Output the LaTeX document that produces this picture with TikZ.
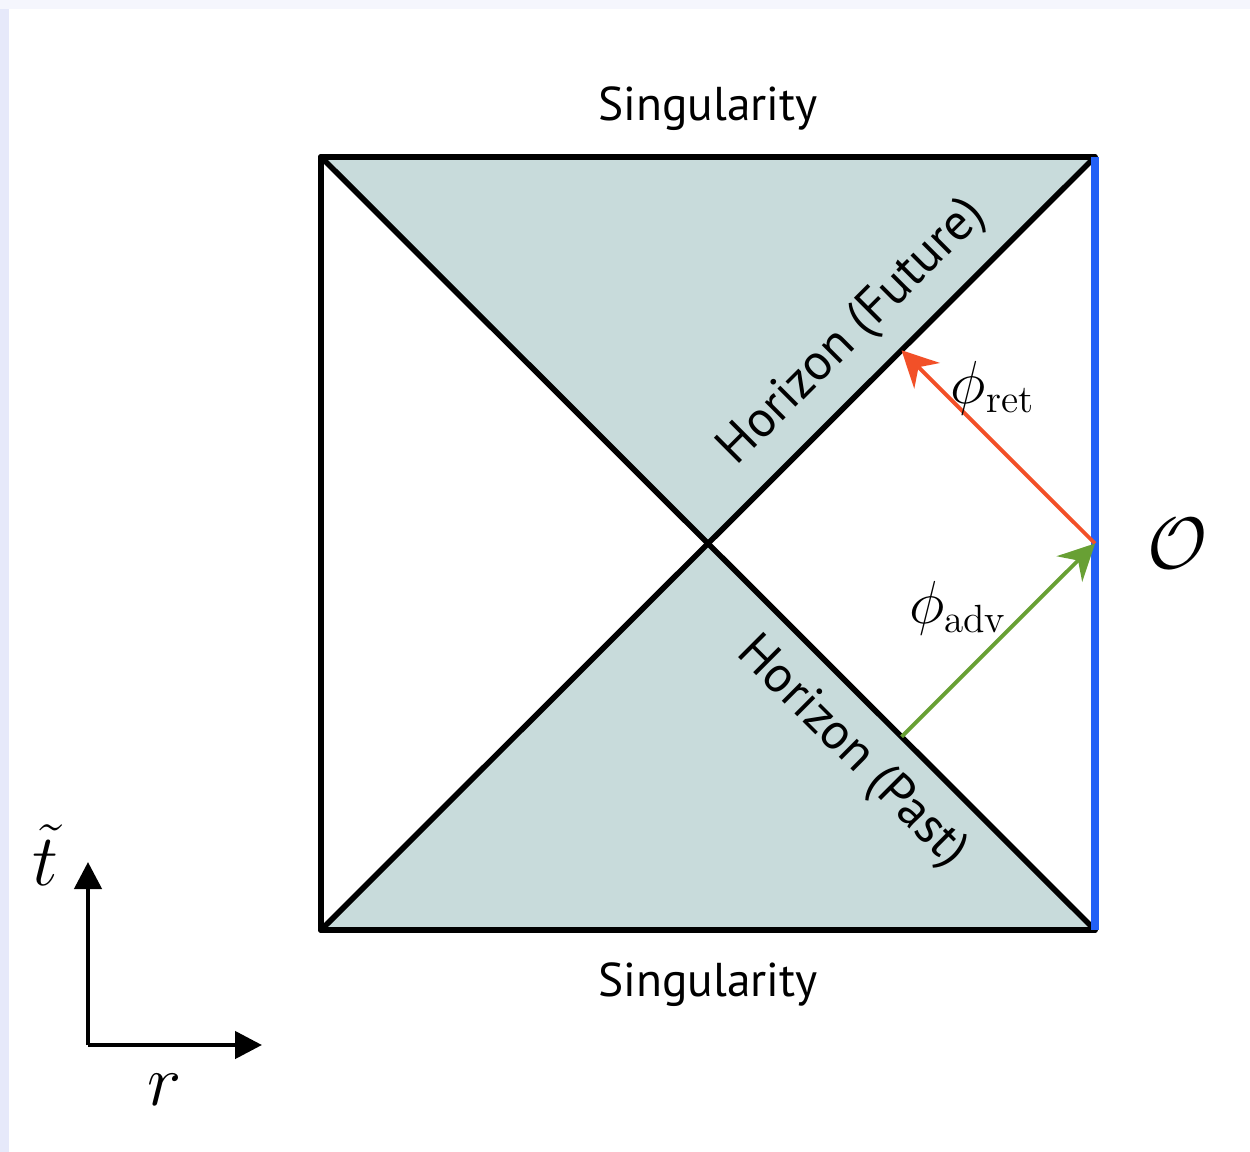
\documentclass[tikz,border=0pt]{standalone}
\usepackage{fontspec}
\setsansfont{PT Sans}
\usetikzlibrary{arrows.meta, positioning, calc}
\definecolor{wedgefill}{RGB}{200,219,219}
\definecolor{obsblue}{RGB}{34,96,246}
\definecolor{retred}{RGB}{242,80,40}
\definecolor{advgreen}{RGB}{104,160,52}
\definecolor{frametop}{RGB}{245,246,253}
\definecolor{frameleft}{RGB}{230,233,250}

\begin{document}
\begin{tikzpicture}[
    >=Stealth,
    edge/.style={line width=1.6pt, line cap=round, line join=round},
    wedge/.style={fill=wedgefill},
    sing/.style={font=\sffamily\fontsize{13.5}{16}\selectfont},
    hlbl/.style={font=\sffamily\fontsize{14.5}{16}\selectfont, sloped, inner sep=0pt},
    ray/.style={line width=1.1pt, -{Stealth[length=3.6mm, width=3.6mm, inset=1.2mm]}},
    axis/.style={line width=1.3pt, -{Triangle[length=2.7mm, width=2.7mm]}},
    philbl/.style={font=\fontsize{16}{18}\selectfont},
]
% === Frame and bounding box ===
\fill[frametop] (0,0) rectangle (12.5,-11.52);
\fill[frameleft] (0,-0.09) rectangle (0.09,-11.52);
\fill[white] (0.09,-0.09) rectangle (12.5,-11.52);
\useasboundingbox (0,0) rectangle (12.5,-11.52);
% === Corners of the Penrose square ===
\coordinate (tl) at (3.21,-1.57);
\coordinate (tr) at (10.95,-1.57);
\coordinate (bl) at (3.21,-9.30);
\coordinate (br) at (10.95,-9.30);
\coordinate (ctr) at ($(tl)!0.5!(br)$);
\coordinate (obs) at ($(tr)!0.5!(br)$);
% === Shaded wedges (black hole above, white hole below) ===
\fill[wedge] (tl) -- (tr) -- (ctr) -- cycle;
\fill[wedge] (bl) -- (br) -- (ctr) -- cycle;
% === Edges and horizons ===
\draw[edge] (tl) -- (tr);
\draw[edge] (bl) -- (br);
\draw[edge] (tl) -- (bl);
\draw[edge] (bl) -- (tr) node[hlbl, pos=0.73, above=0.2cm] {Horizon (Future)};
\draw[edge] (tl) -- (br) node[hlbl, pos=0.728, below=0.2cm] {Horizon (Past)};
\draw[line width=2.2pt, obsblue] (tr) -- (br);
\node[sing, above=0.14 of ctr |- tl] (singtop) {Singularity};
\node[sing, below=0.2 of ctr |- bl] (singbot) {Singularity};
% === Observer and the two fields ===
\node[right=0.4 of obs, font=\huge] (obslbl) {$\mathcal{O}$};
\coordinate (retend) at ($(ctr)!0.5!(tr)$);
\coordinate (advstart) at ($(ctr)!0.5!(br)$);
\draw[ray, retred] (obs) -- (retend);
\draw[ray, advgreen] (advstart) -- (obs);
\node[philbl] (retlbl) at (9.93,-3.88) {$\phi_{\mathrm{ret}}$};
\node[philbl] (advlbl) at (9.58,-6.08) {$\phi_{\mathrm{adv}}$};
% === Axes ===
\coordinate (axo) at (0.88,-10.45);
\coordinate (axt) at (0.88,-8.62);
\coordinate (axr) at (2.62,-10.45);
\draw[axis] (axo) -- (axt);
\draw[axis] (axo) -- (axr);
\node[font=\huge] (tlbl) at (0.45,-8.55) {$\tilde{t}$};
\node[font=\huge] (rlbl) at (1.65,-10.90) {$r$};
\end{tikzpicture}
\end{document}
